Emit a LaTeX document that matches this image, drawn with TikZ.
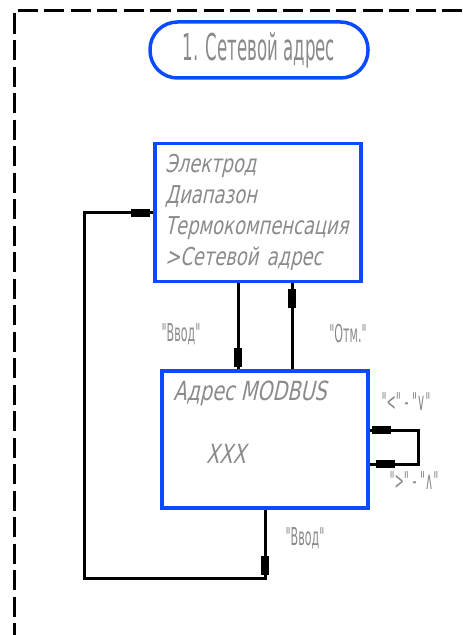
\documentclass[tikz,border=0pt]{standalone}
\usepackage{fontspec}
\setmainfont{DejaVu Sans}
\newfontfamily\narrowfont{DejaVu Sans}[FakeStretch=0.45]
\newfontfamily\menufont{DejaVu Sans}[FakeStretch=0.73,FakeSlant=0.22]
\usepackage{tikz}
\usetikzlibrary{positioning,decorations.markings}
\definecolor{cblue}{HTML}{0A4BFF}
\definecolor{ctext}{HTML}{8A8A8A}
\tikzset{
  titlebox/.style={draw=cblue, line width=0.7mm, rounded corners=5.5mm,
    minimum width=43.6mm, minimum height=11.2mm, text=ctext,
    font=\narrowfont\fontsize{21}{24}\selectfont},
  menubox/.style={draw=cblue, line width=0.7mm, align=left, text=ctext,
    text width=37.2mm, inner xsep=2mm, minimum height=27.6mm,
    font=\menufont\fontsize{14}{17.6}\selectfont},
  menutext/.style={text=ctext, inner sep=0pt, font=\menufont\fontsize{15}{17.6}\selectfont},
  keylabel/.style={text=ctext, inner sep=0pt, font=\narrowfont\fontsize{14}{16}\selectfont},
  link/.style={line width=0.6mm, black},
  blockat/.style={postaction={decorate, decoration={markings,
    mark=at position #1 with {\fill[black] (-1.9mm,-0.85mm) rectangle (1.9mm,0.85mm);}}}},
  frameline/.style={line width=0.6mm, dash pattern=on 4mm off 1.3mm}
}

\begin{document}
\begin{tikzpicture}[x=0.2mm, y=-0.2mm]
    \useasboundingbox (0,0) rectangle (462,635);
    \draw[frameline] (462,11) -- (14,11) -- (14,635);

    \node[titlebox] (title) at (259,50) {1. Сетевой адрес};
    \node[menubox] (menu) at (258,212.5) {Электрод\\Диапазон\\Термокомпенсация\\>Сетевой адрес};
    \node[draw=cblue, line width=0.7mm, minimum width=41.2mm, minimum height=27.4mm] (addr) at (265,439.5) {};
    \node[menutext, anchor=west] (addrname) at (173,393) {Адрес MODBUS};
    \node[menutext] (addrval) at (226,454) {XXX};

    \coordinate (downx) at (238,0);
    \coordinate (upx) at (292,0);
    \coordinate (loopout) at (0,430);
    \coordinate (loopin) at (0,464);
    \coordinate (loopx) at (418,0);
    \coordinate (backy) at (0,578);
    \coordinate (backx) at (84,0);
    \coordinate (entry) at (0,213);

    \draw[link, blockat=-2.4mm] (menu.south -| downx) -- (addr.north -| downx);
    \draw[link, blockat=-3mm] (addr.north -| upx) -- (menu.south -| upx);
    \draw[link, blockat=2.4mm, blockat=-3.2mm] (addr.east |- loopout) -- (loopx |- loopout)
      -- (loopx |- loopin) -- (addr.east |- loopin);
    \draw[link, blockat=11.2mm, blockat=-2.6mm] (addr.south) -- (addr.south |- backy)
      -- (backx |- backy) -- (backx |- entry) -- (menu.west |- entry);

    \node[keylabel] (enter1) at (181,334) {"Ввод"};
    \node[keylabel] (cancel) at (348,334) {"Отм."};
    \node[keylabel] (enter2) at (305,538) {"Ввод"};
    \node[keylabel] (keysdown) at (406,402) {"<"\ -\ "∨"};
    \node[keylabel] (keysup) at (414,481) {">"\ -\ "∧"};
\end{tikzpicture}
\end{document}
